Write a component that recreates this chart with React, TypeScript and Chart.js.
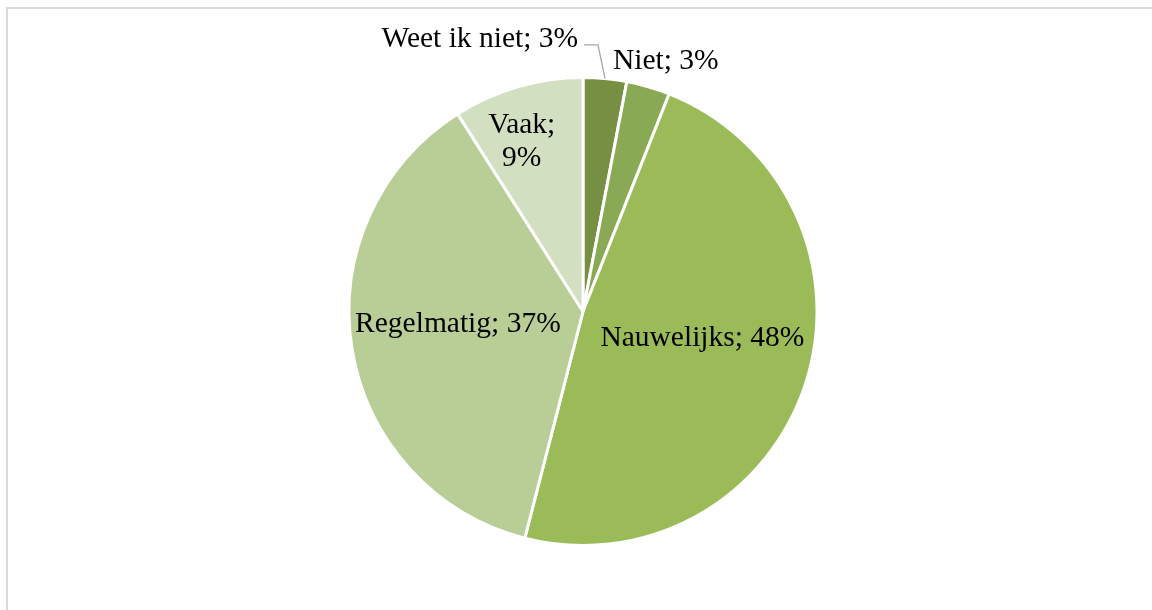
import React, { useEffect, useRef } from "react";
import { Chart, registerables } from "chart.js";

Chart.register(...registerables);

const categories = ["Weet ik niet", "Niet", "Nauwelijks", "Regelmatig", "Vaak"];
const percentages = [3, 3, 48, 37, 9];
const sliceColors = ["#778F43", "#8AA954", "#9BBB59", "#B9CD97", "#D2DFC0"];

// label placement: fraction of radius along slice mid-angle + pixel nudge; lines = text lines
const labelFrac = [1.17, 1.1, 0.55, 0.55, 0.77];
const labelOffX = [-129, 11, -3, 2, -11];
const labelOffY = [0, -3, -13, -7, 3];
const labelLines: string[][] = [
  ["Weet ik niet; 3%"],
  ["Niet; 3%"],
  ["Nauwelijks; 48%"],
  ["Regelmatig; 37%"],
  ["Vaak;", "9%"],
];
const leaderFor = [true, false, false, false, false];

const FONT_SIZE = 29.5;
const LINE_H = 33;

const framePlugin = {
  id: "frame",
  beforeDraw(chart: any) {
    const ctx = chart.ctx;
    ctx.save();
    ctx.fillStyle = "#FFFFFF";
    ctx.fillRect(0, 0, chart.width, chart.height);
    ctx.strokeStyle = "#D9D9D9";
    ctx.lineWidth = 2;
    ctx.strokeRect(7, 8, chart.width + 50, chart.height + 50);
    ctx.restore();
  },
};

const labelPlugin = {
  id: "sliceLabels",
  afterDatasetsDraw(chart: any) {
    const ctx = chart.ctx;
    const meta = chart.getDatasetMeta(0);
    ctx.save();
    ctx.font = `${FONT_SIZE}px "Liberation Serif", "Times New Roman", serif`;
    ctx.fillStyle = "#000000";
    ctx.textBaseline = "middle";
    ctx.textAlign = "center";
    meta.data.forEach((arc: any, i: number) => {
      const p = arc.getProps(["x", "y", "startAngle", "endAngle", "outerRadius"], true);
      const mid = (p.startAngle + p.endAngle) / 2;
      const r = p.outerRadius * labelFrac[i];
      const cx = p.x + Math.cos(mid) * r + labelOffX[i];
      const cy = p.y + Math.sin(mid) * r + labelOffY[i];
      const lines = labelLines[i];
      const total = (lines.length - 1) * LINE_H;
      lines.forEach((t, k) => {
        ctx.fillText(t, cx, cy - total / 2 + k * LINE_H);
      });
      if (leaderFor[i]) {
        const w = ctx.measureText(lines[0]).width;
        const sx = cx + w / 2 + 6;
        const sy = cy + 6;
        const ex = p.x + Math.cos(mid) * p.outerRadius;
        const ey = p.y + Math.sin(mid) * p.outerRadius;
        ctx.strokeStyle = "#A6A6A6";
        ctx.lineWidth = 1.3;
        ctx.beginPath();
        ctx.moveTo(sx, sy);
        ctx.lineTo(ex - 7, sy);
        ctx.lineTo(ex, ey);
        ctx.stroke();
      }
    });
    ctx.restore();
  },
};

export default function App() {
  const ref = useRef<HTMLCanvasElement | null>(null);
  useEffect(() => {
    if (!ref.current) return;
    const chart = new Chart(ref.current, {
      type: "pie",
      data: {
        labels: categories,
        datasets: [
          {
            data: percentages,
            backgroundColor: sliceColors,
            borderColor: "#FFFFFF",
            borderWidth: 3,
          },
        ],
      },
      options: {
        responsive: false,
        animation: false,
        layout: { padding: { left: 14, right: 0, top: 76, bottom: 63 } },
        plugins: {
          legend: { display: false },
          tooltip: { enabled: false },
        },
      },
      plugins: [framePlugin, labelPlugin],
    });
    return () => chart.destroy();
  }, []);
  return (
    <div style={{ position: "fixed", left: 0, top: 0, width: 1152, height: 610 }}>
      <canvas ref={ref} width={1152} height={610} style={{ display: "block", width: 1152, height: 610 }} />
    </div>
  );
}
